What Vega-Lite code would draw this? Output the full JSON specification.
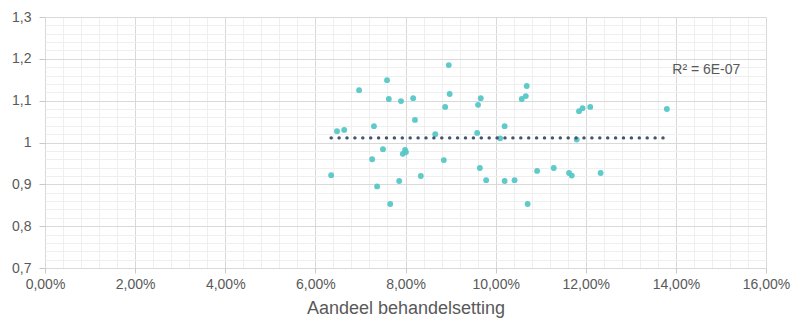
{
  "$schema": "https://vega.github.io/schema/vega-lite/v6.json",
  "width": 721,
  "height": 251,
  "autosize": {"type": "none"},
  "padding": {"left": 45, "top": 17, "right": 29, "bottom": 54},
  "background": "white",
  "config": {
    "view": {"stroke": null},
    "font": "Liberation Sans",
    "axis": {
      "labelFont": "Liberation Sans",
      "titleFont": "Liberation Sans",
      "labelColor": "#595959",
      "titleColor": "#595959",
      "labelFontSize": 14,
      "domain": false
    }
  },
  "datasets": {
    "points": [
      {"aandeel": 6.35, "waarde": 0.922},
      {"aandeel": 6.48, "waarde": 1.027},
      {"aandeel": 6.64, "waarde": 1.030},
      {"aandeel": 6.97, "waarde": 1.125},
      {"aandeel": 7.30, "waarde": 1.039},
      {"aandeel": 7.26, "waarde": 0.960},
      {"aandeel": 7.37, "waarde": 0.895},
      {"aandeel": 7.50, "waarde": 0.984},
      {"aandeel": 7.59, "waarde": 1.149},
      {"aandeel": 7.63, "waarde": 1.104},
      {"aandeel": 7.66, "waarde": 0.853},
      {"aandeel": 7.86, "waarde": 0.908},
      {"aandeel": 7.90, "waarde": 1.099},
      {"aandeel": 7.94, "waarde": 0.973},
      {"aandeel": 7.99, "waarde": 0.982},
      {"aandeel": 8.01, "waarde": 0.977},
      {"aandeel": 8.17, "waarde": 1.106},
      {"aandeel": 8.21, "waarde": 1.054},
      {"aandeel": 8.34, "waarde": 0.920},
      {"aandeel": 8.66, "waarde": 1.020},
      {"aandeel": 8.85, "waarde": 0.958},
      {"aandeel": 8.88, "waarde": 1.085},
      {"aandeel": 8.96, "waarde": 1.185},
      {"aandeel": 8.98, "waarde": 1.116},
      {"aandeel": 9.59, "waarde": 1.023},
      {"aandeel": 9.61, "waarde": 1.090},
      {"aandeel": 9.67, "waarde": 1.106},
      {"aandeel": 9.65, "waarde": 0.939},
      {"aandeel": 9.79, "waarde": 0.910},
      {"aandeel": 10.10, "waarde": 1.010},
      {"aandeel": 10.20, "waarde": 0.908},
      {"aandeel": 10.20, "waarde": 1.039},
      {"aandeel": 10.42, "waarde": 0.910},
      {"aandeel": 10.58, "waarde": 1.104},
      {"aandeel": 10.67, "waarde": 1.111},
      {"aandeel": 10.69, "waarde": 1.135},
      {"aandeel": 10.71, "waarde": 0.853},
      {"aandeel": 10.92, "waarde": 0.932},
      {"aandeel": 11.29, "waarde": 0.939},
      {"aandeel": 11.63, "waarde": 0.927},
      {"aandeel": 11.69, "waarde": 0.921},
      {"aandeel": 11.80, "waarde": 1.007},
      {"aandeel": 11.85, "waarde": 1.075},
      {"aandeel": 11.93, "waarde": 1.082},
      {"aandeel": 12.10, "waarde": 1.085},
      {"aandeel": 12.33, "waarde": 0.927},
      {"aandeel": 13.80, "waarde": 1.080}
    ],
    "trend": [
      {"aandeel": 6.35, "waarde": 1.011},
      {"aandeel": 13.80, "waarde": 1.011}
    ],
    "label": [
      {"aandeel": 13.92, "waarde": 1.173, "tekst": "R² = 6E-07"}
    ]
  },
  "layer": [
    {
      "data": {"name": "points"},
      "mark": {"type": "circle", "size": 34, "color": "#55C7C7", "opacity": 0.95},
      "encoding": {
        "x": {
          "field": "aandeel",
          "type": "quantitative",
          "scale": {"domain": [0, 16], "nice": false, "zero": false},
          "axis": {
            "title": "Aandeel behandelsetting",
            "titleFontSize": 18,
            "titleFontWeight": "normal",
            "titlePadding": 8,
            "tickCount": 200,
            "values": [0,0.4,0.8,1.2,1.6,2,2.4,2.8,3.2,3.6,4,4.4,4.8,5.2,5.6,6,6.4,6.8,7.2,7.6,8,8.4,8.8,9.2,9.6,10,10.4,10.8,11.2,11.6,12,12.4,12.8,13.2,13.6,14,14.4,14.8,15.2,15.6,16],
            "labelExpr": "abs(datum.value/2 - round(datum.value/2)) < 0.001 ? replace(format(datum.value, '.2f'), '.', ',') + '%' : ''",
            "labelPadding": 4,
            "labelFlush": false,
            "labelOverlap": false,
            "tickSize": 5,
            "tickColor": {"condition": {"test": "abs(datum.value/2 - round(datum.value/2)) < 0.001", "value": "#c8c8c8"}, "value": "transparent"},
            "grid": true,
            "gridColor": {"condition": {"test": "abs(datum.value/2 - round(datum.value/2)) < 0.001", "value": "#d9d9d9"}, "value": "#efefef"},
            "gridWidth": 1
          }
        },
        "y": {
          "field": "waarde",
          "type": "quantitative",
          "scale": {"domain": [0.7, 1.3], "nice": false, "zero": false},
          "axis": {
            "title": null,
            "tickCount": 200,
            "values": [0.7,0.72,0.74,0.76,0.78,0.8,0.82,0.84,0.86,0.88,0.9,0.92,0.94,0.96,0.98,1,1.02,1.04,1.06,1.08,1.1,1.12,1.14,1.16,1.18,1.2,1.22,1.24,1.26,1.28,1.3],
            "labelExpr": "abs(datum.value*10 - round(datum.value*10)) < 0.001 ? replace(format(datum.value, '.1~f'), '.', ',') : ''",
            "labelPadding": 8,
            "labelOverlap": false,
            "tickSize": 6,
            "tickColor": {"condition": {"test": "abs(datum.value*10 - round(datum.value*10)) < 0.001", "value": "#c8c8c8"}, "value": "transparent"},
            "grid": true,
            "gridColor": {"condition": {"test": "abs(datum.value*10 - round(datum.value*10)) < 0.001", "value": "#d9d9d9"}, "value": "#efefef"},
            "gridWidth": 1
          }
        }
      }
    },
    {
      "data": {"name": "trend"},
      "mark": {"type": "line", "color": "#44546A", "strokeWidth": 3.4, "strokeDash": [0.1, 7.8], "strokeCap": "round"},
      "encoding": {
        "x": {"field": "aandeel", "type": "quantitative"},
        "y": {"field": "waarde", "type": "quantitative"}
      }
    },
    {
      "data": {"name": "label"},
      "mark": {"type": "text", "align": "left", "baseline": "middle", "fontSize": 14, "color": "#595959", "font": "Liberation Sans"},
      "encoding": {
        "x": {"field": "aandeel", "type": "quantitative"},
        "y": {"field": "waarde", "type": "quantitative"},
        "text": {"field": "tekst"}
      }
    }
  ]
}
